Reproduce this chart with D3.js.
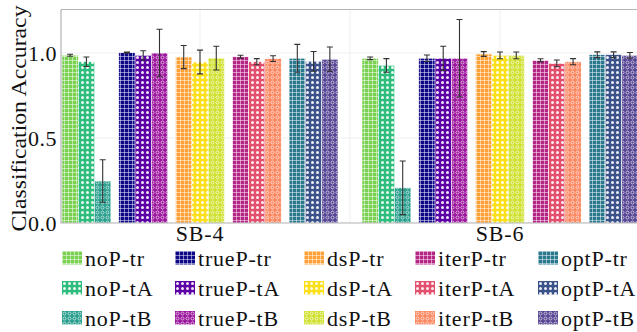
<!DOCTYPE html>
<html>
<head>
<meta charset="utf-8">
<script src="https://cdn.jsdelivr.net/npm/d3@7"></script>
<style>
body{margin:0;background:#fff;}
svg{display:block;}
</style>
</head>
<body>
<div id="chart"></div>
<script>
// data
const groups=["SB-4","SB-6"];
const methods=["noP","trueP","dsP","iterP","optP"];
const variants=["tr","tA","tB"];
// order: method x variant
const sb4Mean=[0.987,0.949,0.247, 1.002,0.986,1.000, 0.976,0.947,0.970, 0.978,0.949,0.967, 0.969,0.951,0.963];
const sb4Err =[0.006,0.028,0.125, 0.003,0.027,0.140, 0.068,0.070,0.070, 0.009,0.018,0.017, 0.082,0.058,0.072];
const sb6Mean=[0.969,0.927,0.207, 0.969,0.969,0.969, 0.994,0.986,0.986, 0.957,0.939,0.949, 0.990,0.990,0.986];
const sb6Err =[0.008,0.040,0.158, 0.019,0.071,0.228, 0.014,0.020,0.020, 0.009,0.020,0.018, 0.017,0.017,0.017];
const colors=["#7ad151","#2ebd7c","#2a9f8e", "#0d0887","#5c01a6","#9c179e", "#fda035","#fbdf1a","#d0e030", "#b52585","#e3506e","#fb8861", "#2a788e","#3b528b","#584694"];
const yTicks=[0,0.5,1.0];

const W=637,H=332;
const mLeft=61,mTop=9.5,mBottom=223,mRight=637;
const serif="'Liberation Serif'";

const svg=d3.select("#chart").append("svg").attr("width",W).attr("height",H);
const defs=svg.append("defs");

function makePattern(id,col,kind){
  let size=kind=="tr"?4:5;
  let p=defs.append("pattern").attr("id",id).attr("patternUnits","userSpaceOnUse")
    .attr("width",size).attr("height",size);
  p.append("rect").attr("width",size).attr("height",size).attr("fill",col);
  if(kind=="tr"){
    p.append("path").attr("d","M0,0.5H4M0.5,0V4").attr("stroke","#fff").attr("stroke-opacity",0.55).attr("stroke-width",0.9);
  } else if(kind=="tA"){
    p.append("circle").attr("cx",2.5).attr("cy",2.5).attr("r",1.5).attr("fill","#fff").attr("fill-opacity",0.9);
  } else {
    p.append("circle").attr("cx",2.5).attr("cy",2.5).attr("r",1.5).attr("fill","none").attr("stroke","#fff").attr("stroke-opacity",0.75).attr("stroke-width",0.8);
  }
}
const items=[];
methods.forEach((m,i)=>variants.forEach((v,j)=>{
  let k=i*3+j;
  makePattern("pat"+k,colors[k],v);
  items.push({m:m,v:v,k:k});
}));

const y=d3.scaleLinear().domain([0,1.256]).range([mBottom,mTop]);
const x0=d3.scaleBand().domain(groups).range([50,650]);
const xm=d3.scaleBand().domain(methods).range([12,288]).paddingInner(0.14);
const xv=d3.scaleBand().domain(variants).range([0,xm.bandwidth()]);

svg.append("clipPath").attr("id","clip").append("rect")
  .attr("x",mLeft).attr("y",0).attr("width",mRight-mLeft).attr("height",mBottom);

// grid
const grid=svg.append("g").attr("clip-path","url(#clip)");
grid.selectAll(".hg").data(yTicks).enter().append("line")
  .attr("x1",mLeft).attr("x2",mRight).attr("y1",d=>y(d)).attr("y2",d=>y(d))
  .attr("stroke","#ebebeb").attr("stroke-width",0.8);
const vx=[x0("SB-4")+x0.bandwidth()/2,x0("SB-6"),x0("SB-6")+x0.bandwidth()/2];
grid.selectAll(".vg").data(vx).enter().append("line")
  .attr("x1",d=>d).attr("x2",d=>d).attr("y1",mTop).attr("y2",mBottom)
  .attr("stroke","#ebebeb").attr("stroke-width",0.8);

// bars
const rows=[];
groups.forEach((g,gi)=>{
  let mean=gi==0?sb4Mean:sb6Mean, err=gi==0?sb4Err:sb6Err;
  items.forEach(it=>rows.push({g:g,m:it.m,v:it.v,k:it.k,val:mean[it.k],e:err[it.k]}));
});
const bx=d=>x0(d.g)+xm(d.m)+xv(d.v);
const plot=svg.append("g").attr("clip-path","url(#clip)");
plot.selectAll("rect").data(rows).enter().append("rect")
  .attr("x",bx).attr("width",xv.bandwidth())
  .attr("y",d=>y(d.val)).attr("height",d=>y(0)-y(d.val))
  .attr("fill",d=>"url(#pat"+d.k+")")
  .attr("stroke","#fff").attr("stroke-width",0.6).attr("stroke-opacity",0.8);

// error bars
const eb=plot.selectAll(".eb").data(rows).enter().append("g");
eb.append("path")
  .attr("d",d=>{
    let cx=bx(d)+xv.bandwidth()/2, y1=y(d.val+d.e), y2=y(d.val-d.e);
    return "M"+cx+","+y1+"V"+y2+"M"+(cx-3)+","+y1+"H"+(cx+3)+"M"+(cx-3)+","+y2+"H"+(cx+3);
  })
  .attr("stroke","#333").attr("stroke-width",1.1).attr("fill","none");

// spines
svg.append("path").attr("d","M"+mLeft+","+mTop+"V"+mBottom+"H"+mRight)
  .attr("stroke","#b3b3b3").attr("stroke-width",1.2).attr("fill","none");
svg.append("path").attr("d","M"+mLeft+","+mTop+"H"+mRight)
  .attr("stroke","#b3b3b3").attr("stroke-width",1.2).attr("fill","none");

// y ticks
svg.selectAll(".yt").data(yTicks).enter().append("text")
  .attr("x",57).attr("y",d=>y(d)).attr("dy","0.35em").attr("text-anchor","end")
  .style("font-family",serif).style("font-size","22px").style("letter-spacing","0.5px")
  .attr("fill","#111").text(d=>d3.format(".1f")(d));
svg.append("text").attr("transform","translate(25.5,118.5) rotate(-90)")
  .attr("text-anchor","middle").style("font-family",serif).style("font-size","22px").attr("fill","#111")
  .attr("textLength",226).attr("lengthAdjust","spacingAndGlyphs").text("Classification Accuracy");

// x labels
svg.selectAll(".xt").data(groups).enter().append("text")
  .attr("x",d=>x0(d)+x0.bandwidth()/2).attr("y",241).attr("text-anchor","middle")
  .style("font-family",serif).style("font-size","22px").style("letter-spacing","0.8px")
  .attr("fill","#111").text(d=>d);

// legend: 3 rows x 5 columns
const colX=[62,175,304,415,538];
const rowY=[251,281,311];
const leg=svg.selectAll(".lg").data(items).enter().append("g")
  .attr("transform",d=>"translate("+colX[methods.indexOf(d.m)]+","+rowY[variants.indexOf(d.v)]+")");
leg.append("rect").attr("x",0).attr("y",0).attr("width",20).attr("height",13.5)
  .attr("fill",d=>"url(#pat"+d.k+")");
leg.append("text").attr("x",23).attr("y",14.5)
  .style("font-family",serif).style("font-size","22px").style("letter-spacing","0.8px")
  .attr("fill","#111").text(d=>d.m+"-"+d.v);
</script>
</body>
</html>
